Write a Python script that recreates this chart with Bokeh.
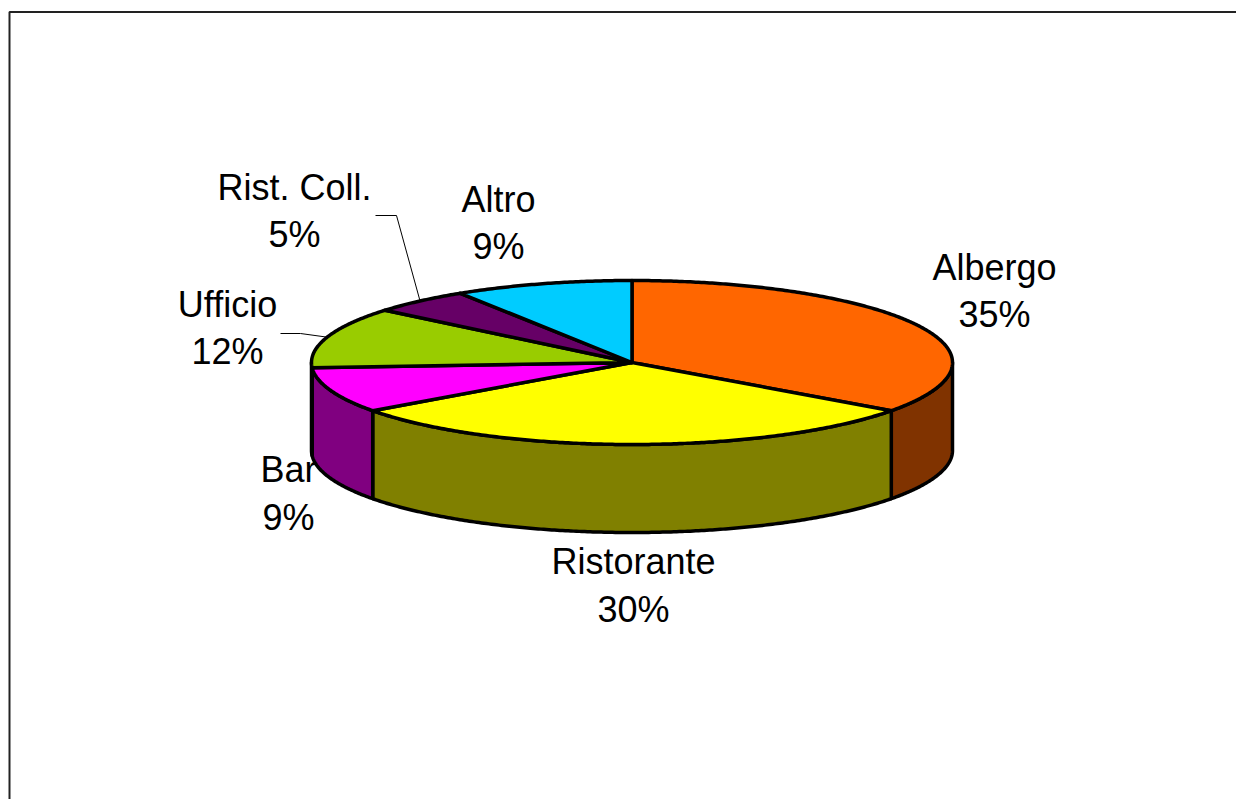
import math
from bokeh.plotting import figure
from bokeh.embed import file_html
from bokeh.resources import INLINE
from bokeh.core.properties import value

categories = ["Albergo", "Ristorante", "Bar", "Ufficio", "Rist. Coll.", "Altro"]
values = [35, 30, 9, 12, 5, 9]
percent_labels = ["35%", "30%", "9%", "12%", "5%", "9%"]
top_colors = ["#FF6600", "#FFFF00", "#FF00FF", "#99CC00", "#660066", "#00CCFF"]
side_colors = ["#803300", "#808000", "#800080", "#4D6600", "#330033", "#006680"]

# pie geometry, in page pixels
CX, CY, RX, RY, DEPTH = 631.5, 362.0, 320.5, 82.0, 88.0
OUTLINE = 3.5
# text centre of each two-line label (name, then value)
label_pos = [(994, 267, 314), (633, 561, 609), (288, 469, 517),
             (227, 304, 351), (294, 187, 234), (498, 199, 246)]
FONT = value("Liberation Sans")
FONT_SIZE = "36px"

W, H = 1236, 799
p = figure(width=W, height=H, x_range=(0, W), y_range=(H, 0),
           output_backend="svg", toolbar_location=None,
           min_border=0, outline_line_color=None, background_fill_color="white",
           border_fill_color="white", x_axis_type=None, y_axis_type=None)
p.grid.visible = False


def pt(deg, dy=0.0):
    a = math.radians(deg)
    return CX + RX * math.sin(a), CY - RY * math.cos(a) + dy


def arc(a0, a1, dy=0.0):
    n = max(2, int(abs(a1 - a0) * 2))
    return [pt(a0 + (a1 - a0) * i / n, dy) for i in range(n + 1)]


total = sum(values)
edges = [0.0]
for v in values:
    edges.append(edges[-1] + 360.0 * v / total)

# frame
p.line([9, 9, W + 5], [H + 5, 11.5, 11.5], line_color="#222222", line_width=2)

# outer walls: only the part of each slice on the near half of the ellipse
for i in range(len(values)):
    a0, a1 = max(edges[i], 90.0), min(edges[i + 1], 270.0)
    if a1 <= a0:
        continue
    poly = arc(a0, a1) + arc(a1, a0, DEPTH)
    p.patch([q[0] for q in poly], [q[1] for q in poly], fill_color=side_colors[i],
            line_color="black", line_width=OUTLINE, line_join="round")

# top faces
for i in range(len(values)):
    poly = [(CX, CY)] + arc(edges[i], edges[i + 1])
    p.patch([q[0] for q in poly], [q[1] for q in poly], fill_color=top_colors[i],
            line_color="black", line_width=OUTLINE, line_join="round")

# leader lines for the two labels that sit away from their slices
for i, (sx0, sx1, sy) in {3: (280, 300, 333), 4: (375, 396, 215)}.items():
    ex, ey = pt((edges[i] + edges[i + 1]) / 2)
    p.line([sx0, sx1, ex], [sy, sy, ey], line_color="black", line_width=1)

# labels
for i, (x, y0, y1) in enumerate(label_pos):
    for txt, y in ((categories[i], y0), (percent_labels[i], y1)):
        p.text([x], [y], text=[txt], text_font=FONT, text_font_size=FONT_SIZE,
               text_align="center", text_baseline="middle", text_color="black")

open("out.html", "w").write(file_html(p, INLINE))
